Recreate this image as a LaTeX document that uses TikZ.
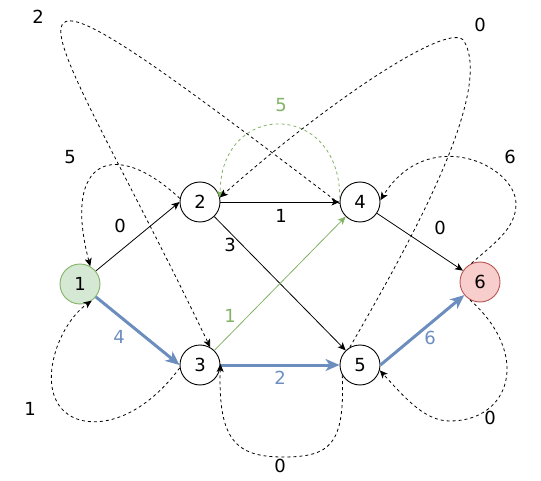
\documentclass[tikz,border=0pt]{standalone}
\usepackage{fontspec}
\setmainfont{DejaVu Sans}
\usetikzlibrary{arrows.meta}
\definecolor{pathblue}{HTML}{6C8EBF}
\definecolor{okgreen}{HTML}{82B366}
\definecolor{startfill}{HTML}{D5E8D4}
\definecolor{endline}{HTML}{B85450}
\definecolor{endfill}{HTML}{F8CECC}
\begin{document}
\begin{tikzpicture}[x=1pt,y=-1pt,
        vertex/.style={circle,draw,line width=0.9pt,minimum size=40pt,inner sep=0pt,font=\fontsize{18}{20}\selectfont},
        lbl/.style={font=\fontsize{18}{20}\selectfont,inner sep=1pt},
        link/.style={-{Stealth[length=8pt,width=7pt,inset=2pt]},line width=0.8pt},
        backlink/.style={link,dash pattern=on 3pt off 3pt},
        bestlink/.style={-{Stealth[length=14pt,width=12pt,inset=4pt]},line width=3pt,color=pathblue}]
        \useasboundingbox (0,0) rectangle (541,481);
        \node[vertex,fill=startfill,draw=okgreen] (n1) at (80,284) {1};
        \node[vertex] (n2) at (200,202) {2};
        \node[vertex] (n3) at (200,365) {3};
        \node[vertex] (n4) at (360,202) {4};
        \node[vertex] (n5) at (360,365) {5};
        \node[vertex,fill=endfill,draw=endline] (n6) at (480,282) {6};
        % forward edges
        \draw[link] (n1) -- (n2.west);
        \draw[link] (n2.east) -- (n4.west);
        \draw[link] (n2) -- (n5);
        \draw[link] (n4) -- (n6);
        \draw[link,color=okgreen] (n3) -- (n4);
        \draw[bestlink] (n1) -- (n3.west);
        \draw[bestlink] (n3.east) -- (n5.west);
        \draw[bestlink] (n5.east) -- (n6);
        % backward edges
        \draw[backlink,color=okgreen] (n4.170) .. controls (340,100) and (220,100) .. (n2.10);
        \draw[backlink] (n2.170) .. controls (115,138) and (62,158) .. (n1.60);
        \draw[backlink] (n3.188) .. controls (150,408) and (112,428) .. (80,420)
                .. controls (30,405) and (54,327) .. (n1.-55);
        \draw[backlink] (n4.185) .. controls (-62,-102) and (42,-3) .. (n3.60);
        \draw[backlink] (n5.120) .. controls (410,243) and (494,92) .. (464,41)
                .. controls (451,20) and (332,98) .. (n2.13);
        \draw[backlink] (n6.115) .. controls (493,244) and (516,229) .. (516,204)
                .. controls (516,165) and (428,124) .. (n4.5);
        \draw[backlink] (n6.-120) .. controls (532,355) and (510,421) .. (450,421)
                .. controls (425,421) and (406,399) .. (n5.-15);
        \draw[backlink] (n5.-150) .. controls (345,445) and (330,457) .. (283,457)
                .. controls (236,457) and (218,440) .. (n3.3);
        % weights
        \node[lbl] (w12) at (120,226) {0};
        \node[lbl] (w24) at (281,216) {1};
        \node[lbl] (w25) at (230,245) {3};
        \node[lbl] (w46) at (440,228) {0};
        \node[lbl,text=okgreen] (w34) at (230,316) {1};
        \node[lbl,text=okgreen] (w42) at (281,105) {5};
        \node[lbl,text=pathblue] (w13) at (119,337) {4};
        \node[lbl,text=pathblue] (w35) at (280,378) {2};
        \node[lbl,text=pathblue] (w56) at (430,338) {6};
        \node[lbl] (w21) at (70,157) {5};
        \node[lbl] (w31) at (30,409) {1};
        \node[lbl] (w43) at (38,17) {2};
        \node[lbl] (w52) at (480,25) {0};
        \node[lbl] (w64) at (510,157) {6};
        \node[lbl] (w65) at (490,418) {0};
        \node[lbl] (w53) at (280,466) {0};
\end{tikzpicture}
\end{document}
